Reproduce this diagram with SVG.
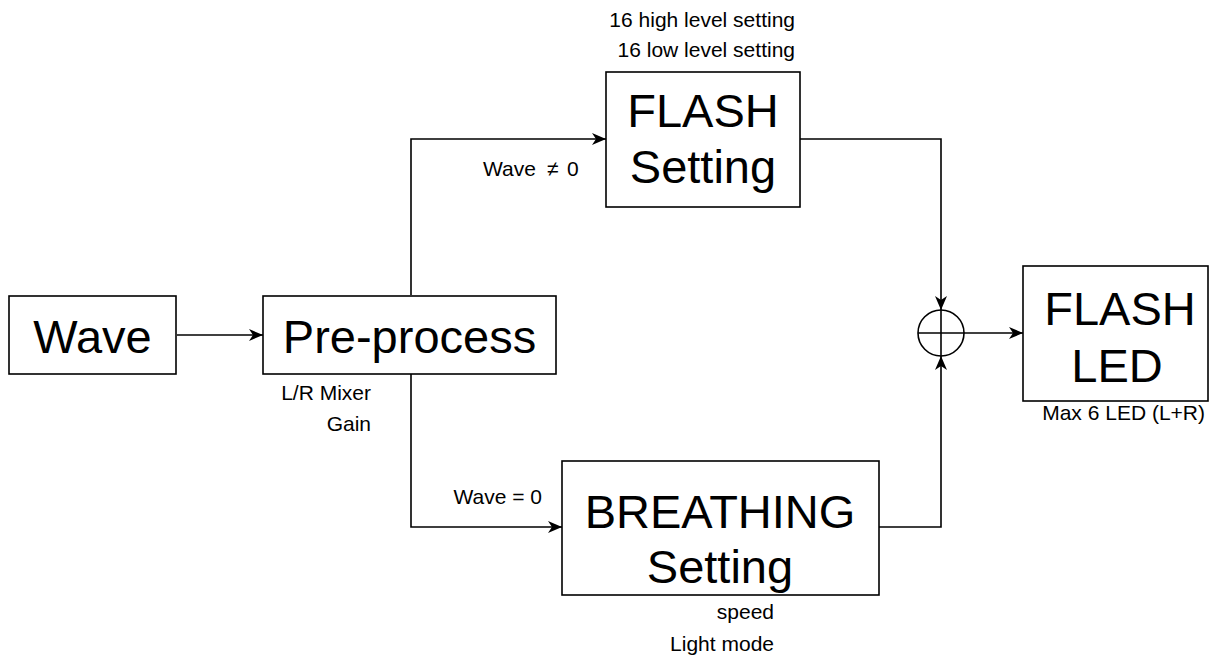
<svg xmlns="http://www.w3.org/2000/svg" width="1214" height="659" viewBox="0 0 1214 659">
  <style>
    .box { fill: #ffffff; stroke: #000000; stroke-width: 1.6; }
    .big { font-family: "Liberation Sans", Arial, sans-serif; font-size: 47px; fill: #000000; text-anchor: middle; }
    .small { font-family: "Liberation Sans", Arial, sans-serif; font-size: 21px; fill: #000000; }
    .wire { fill: none; stroke: #000000; stroke-width: 1.6; }
  </style>
  <defs>
    <marker id="arrow" viewBox="0 0 14 12" refX="14" refY="6" markerWidth="14" markerHeight="12" markerUnits="userSpaceOnUse" orient="auto">
      <path d="M0,0 L14,6 L0,12 L4,6 z" fill="#000000"/>
    </marker>
  </defs>

  <rect width="1214" height="659" fill="#ffffff"/>

  <!-- connectors -->
  <g id="connectors">
    <line class="wire" x1="177" y1="335" x2="263" y2="335" marker-end="url(#arrow)"/>
    <polyline class="wire" points="411,295 411,139 606,139" marker-end="url(#arrow)"/>
    <polyline class="wire" points="411,374 411,527 562,527" marker-end="url(#arrow)"/>
    <polyline class="wire" points="800,139 941,139 941,310" marker-end="url(#arrow)"/>
    <polyline class="wire" points="879,527 941,527 941,356" marker-end="url(#arrow)"/>
    <line class="wire" x1="964" y1="333" x2="1023" y2="333" marker-end="url(#arrow)"/>
    <text class="small" y="176"><tspan x="483">Wave</tspan><tspan x="547">≠</tspan><tspan x="567">0</tspan></text>
    <text class="small" x="542" y="504" text-anchor="end">Wave = 0</text>
  </g>

  <!-- summing junction -->
  <g id="sum">
    <circle cx="941" cy="333" r="23" fill="none" stroke="#000000" stroke-width="1.6"/>
    <line class="wire" x1="918" y1="333" x2="964" y2="333"/>
    <line class="wire" x1="941" y1="310" x2="941" y2="356"/>
  </g>

  <g id="wave">
    <rect class="box" x="9" y="296" width="167" height="78"/>
    <text class="big" x="92.5" y="353">Wave</text>
  </g>

  <g id="preprocess">
    <rect class="box" x="263" y="296" width="293" height="78"/>
    <text class="big" x="409.5" y="353">Pre-process</text>
    <text class="small" x="371" y="400" text-anchor="end">L/R Mixer</text>
    <text class="small" x="371" y="431" text-anchor="end">Gain</text>
  </g>

  <g id="flash-setting">
    <rect class="box" x="606" y="72" width="194" height="135"/>
    <text class="big" x="703" y="127">FLASH</text>
    <text class="big" x="703" y="183">Setting</text>
    <text class="small" x="795" y="27" text-anchor="end">16 high level setting</text>
    <text class="small" x="795" y="57" text-anchor="end">16 low level setting</text>
  </g>

  <g id="breathing-setting">
    <rect class="box" x="562" y="461" width="317" height="134"/>
    <text class="big" x="720" y="528">BREATHING</text>
    <text class="big" x="720" y="583">Setting</text>
    <text class="small" x="774" y="619" text-anchor="end">speed</text>
    <text class="small" x="774" y="651" text-anchor="end">Light mode</text>
  </g>

  <g id="flash-led">
    <rect class="box" x="1023" y="266" width="185" height="135"/>
    <text class="big" x="1120" y="325">FLASH</text>
    <text class="big" x="1117" y="382">LED</text>
    <text class="small" x="1205" y="420" text-anchor="end">Max 6 LED (L+R)</text>
  </g>
</svg>
